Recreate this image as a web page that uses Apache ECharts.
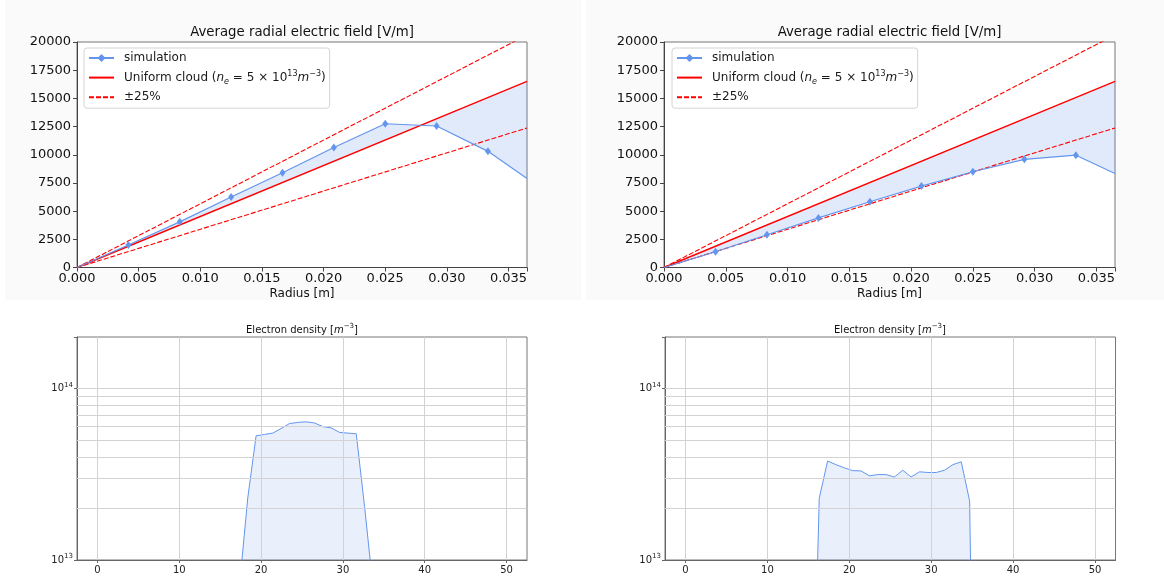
<!DOCTYPE html>
<html>
<head>
<meta charset="utf-8">
<script src="https://cdn.jsdelivr.net/npm/echarts@6/dist/echarts.min.js"></script>
<style>
html, body { margin: 0; padding: 0; background: #ffffff; }
#chart { width: 1164px; height: 578px; }
</style>
</head>
<body>
<div id="chart"></div>
<script>
// ---- Average radial electric field: simulation samples (r [m], E [V/m]) ----
const radius     = [0, 0.004167, 0.008333, 0.0125, 0.016667, 0.020833, 0.025, 0.029167, 0.033333, 0.0365];
const fieldLeft  = [0, 2000, 4050, 6250, 8400, 10650, 12750, 12550, 10300, 7900];
const fieldRight = [0, 1400, 2900, 4400, 5830, 7220, 8490, 9590, 9960, 8340];

// Uniform cloud reference line (n_e = 5e13 m^-3) and its ±25% band
const uniformR = [0, 0.0365];
const uniformE = [0, 16500];
const bandFraction = 0.25;

// ---- Electron density profiles (position, density [m^-3]) ----
const posLeft  = [17.35, 18.37, 19.39, 20.41, 21.43, 22.45, 23.47, 24.49, 25.51, 26.53, 27.55, 28.57, 29.59, 30.61, 31.63, 32.65, 33.67];
const densLeft = [7.0e12, 2.3e13, 5.3e13, 5.4e13, 5.5e13, 5.85e13, 6.25e13, 6.35e13, 6.4e13, 6.3e13, 6.0e13, 5.9e13, 5.55e13, 5.5e13, 5.45e13, 2.05e13, 7.0e12];
const posRight  = [15.31, 16.33, 17.35, 18.37, 19.39, 20.41, 21.43, 22.45, 23.47, 24.49, 25.51, 26.53, 27.55, 28.57, 29.59, 30.61, 31.63, 32.65, 33.67, 34.69, 35.71];
const densRight = [3e11, 2.29e13, 3.78e13, 3.6e13, 3.45e13, 3.32e13, 3.31e13, 3.1e13, 3.15e13, 3.15e13, 3.05e13, 3.34e13, 3.05e13, 3.27e13, 3.24e13, 3.24e13, 3.34e13, 3.6e13, 3.74e13, 2.21e13, 1.5e10];

// Tick values and grid lines of the density panels
const densityXTicks = [0, 10, 20, 30, 40, 50];
const densityMajorY = [1e14];
const densityMinorY = [2e13, 3e13, 4e13, 5e13, 6e13, 7e13, 8e13, 9e13];

const BLUE = '#6495ED';
const FILL = 'rgba(100,149,237,0.2)';
const RED = '#ff0000';
const FONT = 'DejaVu Sans';
const HIDDEN = 'rgba(0,0,0,0)';

const grids = [
  { left: 77,  top: 42,  width: 450, height: 225.5 },
  { left: 664, top: 42,  width: 451, height: 225.5 },
  { left: 77,  top: 337, width: 450, height: 223 },
  { left: 665, top: 337, width: 450.5, height: 223 }
];

function fieldXAxis(gi) {
  return {
    type: 'value', gridIndex: gi, min: 0, max: 0.0365, interval: 0.005,
    axisLine: { show: true, onZero: false, lineStyle: { color: '#444', width: 1 } },
    axisTick: { show: true, length: 4, lineStyle: { color: '#444' } },
    axisLabel: {
      fontFamily: FONT, fontSize: 13, color: '#111', margin: 5,
      formatter: v => (Math.abs(v / 0.005 - Math.round(v / 0.005)) < 1e-6 ? v.toFixed(3) : '')
    },
    splitLine: { show: false }
  };
}
function fieldYAxis(gi) {
  return {
    type: 'value', gridIndex: gi, min: 0, max: 20000, interval: 2500,
    axisLine: { show: true, onZero: false, lineStyle: { color: '#444', width: 1 } },
    axisTick: { show: true, length: 4, lineStyle: { color: '#444' } },
    axisLabel: { fontFamily: FONT, fontSize: 13, color: '#111', margin: 6, formatter: v => String(Math.round(v)) },
    splitLine: { show: false }
  };
}
function densityXAxis(gi) {
  return {
    type: 'value', gridIndex: gi, min: -2.5, max: 52.5,
    axisLine: { show: true, onZero: false, lineStyle: { color: '#666', width: 1 } },
    axisTick: { show: true, length: 3, customValues: densityXTicks, lineStyle: { color: '#666' } },
    axisLabel: { fontFamily: FONT, fontSize: 10, color: '#222', margin: 5, customValues: densityXTicks },
    splitLine: { show: false }
  };
}
function densityYAxis(gi) {
  return {
    type: 'log', logBase: 10, gridIndex: gi, min: 1e13, max: 2e14,
    axisLine: { show: true, onZero: false, lineStyle: { color: '#666', width: 1 } },
    axisTick: { show: true, length: 3, lineStyle: { color: '#666' } },
    axisLabel: {
      fontFamily: FONT, color: '#222', margin: 4,
      formatter: v => {
        const e = Math.log10(v);
        if (Math.abs(e - Math.round(e)) > 1e-6) return '';
        return '{n|10}{s|' + Math.round(e) + '}';
      },
      rich: {
        n: { fontFamily: FONT, fontSize: 10, color: '#222', lineHeight: 14 },
        s: { fontFamily: FONT, fontSize: 7, color: '#222', lineHeight: 7, verticalAlign: 'top' }
      }
    },
    splitLine: { show: false }
  };
}

function pairs(xs, ys) { return xs.map((x, i) => [x, ys[i]]); }

function fieldSeries(gi, values) {
  const simData = radius.map((r, i) => {
    const item = { value: [r, values[i]] };
    if (i === 0 || i === radius.length - 1) item.symbol = 'none';
    return item;
  });
  const scaled = k => uniformR.map((r, i) => [r, uniformE[i] * k]);
  return [
    {
      // shaded region between the simulated field and the uniform cloud line
      type: 'custom', xAxisIndex: gi, yAxisIndex: gi, silent: true, z: 1, clip: true,
      data: [[0, 0]],
      renderItem: (params, api) => {
        const pts = radius.map((r, i) => api.coord([r, values[i]]));
        for (let k = uniformR.length - 1; k >= 0; k--) pts.push(api.coord([uniformR[k], uniformE[k]]));
        return { type: 'polygon', shape: { points: pts }, style: { fill: FILL } };
      }
    },
    {
      name: 'simulation', type: 'line', xAxisIndex: gi, yAxisIndex: gi, z: 4,
      data: simData, symbol: 'diamond', symbolSize: [6, 8], showSymbol: true,
      itemStyle: { color: BLUE }, lineStyle: { color: BLUE, width: 1.2 }
    },
    {
      name: 'Uniform cloud', type: 'line', xAxisIndex: gi, yAxisIndex: gi, z: 3,
      data: scaled(1), symbol: 'none',
      itemStyle: { color: RED }, lineStyle: { color: RED, width: 1.4 }
    },
    {
      name: '±25%', type: 'line', xAxisIndex: gi, yAxisIndex: gi, z: 3, clip: true,
      data: scaled(1 + bandFraction), symbol: 'none',
      itemStyle: { color: RED }, lineStyle: { color: RED, width: 1.1, type: [5, 2] }
    },
    {
      name: '±25%', type: 'line', xAxisIndex: gi, yAxisIndex: gi, z: 3,
      data: scaled(1 - bandFraction), symbol: 'none',
      itemStyle: { color: RED }, lineStyle: { color: RED, width: 1.1, type: [5, 2] }
    }
  ];
}

function densitySeries(gi, xs, ys) {
  return {
    type: 'line', xAxisIndex: gi, yAxisIndex: gi, z: 3, clip: true,
    data: pairs(xs, ys), symbol: 'none',
    lineStyle: { color: BLUE, width: 1 },
    areaStyle: { color: FILL, origin: 'start' },
    markLine: {
      silent: true, symbol: ['none', 'none'], label: { show: false }, animation: false,
      lineStyle: { color: '#d3d3d3', width: 1, type: 'solid' },
      emphasis: { disabled: true },
      data: densityXTicks.map(v => ({ xAxis: v }))
        .concat(densityMajorY.map(v => ({ yAxis: v })))
        .concat(densityMinorY.map(v => ({ yAxis: v })))
    }
  };
}

const legendRich = {
  t: { fontFamily: FONT, fontSize: 12, color: '#1a1a1a', lineHeight: 16 },
  i: { fontFamily: FONT, fontSize: 12, fontStyle: 'italic', color: '#1a1a1a', lineHeight: 16 },
  sub: { fontFamily: FONT, fontSize: 8, fontStyle: 'italic', color: '#1a1a1a', lineHeight: 8, verticalAlign: 'bottom' },
  sup: { fontFamily: FONT, fontSize: 8, color: '#1a1a1a', lineHeight: 8, verticalAlign: 'top' }
};
function legendAt(left) {
  return {
    left: left, top: 48, orient: 'vertical', selectedMode: false,
    itemWidth: 25, itemHeight: 10, itemGap: 3.6,
    padding: [2, 4, 3, 4],
    backgroundColor: 'rgba(255,255,255,0.85)', borderColor: '#d4d4d4', borderWidth: 1, borderRadius: 3,
    data: [
      'simulation',
      { name: 'Uniform cloud', itemStyle: { color: HIDDEN, borderColor: HIDDEN, borderWidth: 0 } },
      { name: '±25%', itemStyle: { color: HIDDEN, borderColor: HIDDEN, borderWidth: 0 } }
    ],
    textStyle: { fontFamily: FONT, fontSize: 12, color: '#1a1a1a', lineHeight: 16, padding: [0, 0, 0, 5], rich: legendRich },
    formatter: name => name === 'Uniform cloud'
      ? '{t|Uniform cloud (}{i|n}{sub|e}{t| = 5 × 10}{sup|13}{i|m}{sup|−3}{t|)}'
      : '{t|' + name + '}'
  };
}

function label(x, y, text, size) {
  return { type: 'text', x: x, y: y, silent: true,
    style: { text: text, fontFamily: FONT, fontSize: size, fill: '#111', align: 'center', verticalAlign: 'middle' } };
}
function richTitle(x, y) {
  return { type: 'text', x: x, y: y, silent: true,
    style: {
      text: '{t|Electron density [}{i|m}{s|−3}{t|]}', align: 'center', verticalAlign: 'middle',
      rich: {
        t: { fontFamily: FONT, fontSize: 10, fill: '#111', lineHeight: 14 },
        i: { fontFamily: FONT, fontSize: 10, fontStyle: 'italic', fill: '#111', lineHeight: 14 },
        s: { fontFamily: FONT, fontSize: 7, fill: '#111', lineHeight: 7, verticalAlign: 'top' }
      }
    } };
}

const option = {
  animation: false,
  backgroundColor: '#ffffff',
  grid: grids.map(g => Object.assign({ show: true, backgroundColor: '#ffffff', borderColor: '#777', borderWidth: 1 }, g)),
  xAxis: [fieldXAxis(0), fieldXAxis(1), densityXAxis(2), densityXAxis(3)],
  yAxis: [fieldYAxis(0), fieldYAxis(1), densityYAxis(2), densityYAxis(3)],
  legend: [legendAt(84), legendAt(672)],
  graphic: [
    { type: 'rect', z: -100, silent: true, shape: { x: 5, y: 0, width: 576, height: 300 }, style: { fill: '#fafafa' } },
    { type: 'rect', z: -100, silent: true, shape: { x: 586, y: 0, width: 578, height: 300 }, style: { fill: '#fafafa' } },
    label(302, 32.5, 'Average radial electric field [V/m]', 13.3),
    label(889.5, 32.5, 'Average radial electric field [V/m]', 13.3),
    label(302, 294, 'Radius [m]', 12),
    label(889.5, 294, 'Radius [m]', 12),
    richTitle(302, 330),
    richTitle(890, 330)
  ],
  series: [].concat(
    fieldSeries(0, fieldLeft),
    fieldSeries(1, fieldRight),
    [densitySeries(2, posLeft, densLeft), densitySeries(3, posRight, densRight)]
  )
};

const chart = echarts.init(document.getElementById('chart'), null, { renderer: 'canvas' });
chart.setOption(option);
</script>
</body>
</html>
